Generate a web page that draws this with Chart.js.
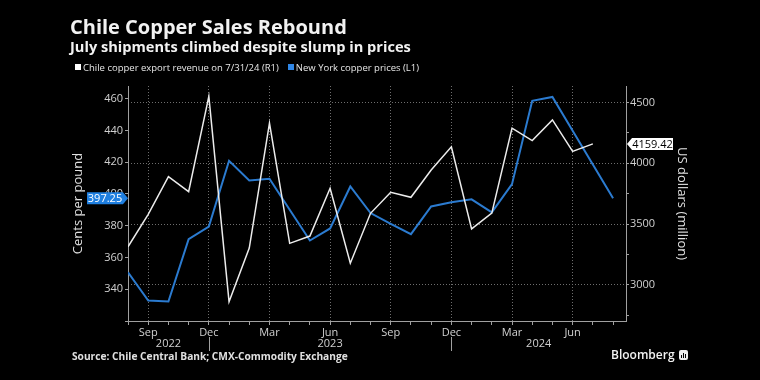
<!DOCTYPE html>
<html>
<head>
<meta charset="utf-8">
<script src="https://cdn.jsdelivr.net/npm/chart.js@4.4.1/dist/chart.umd.min.js"></script>
<style>
html,body{margin:0;padding:0;background:#000;}
#wrap{position:relative;width:760px;height:380px;overflow:hidden;background:#000;font-family:"Open Sans",sans-serif;color:#fff;}
#c{position:absolute;left:0;top:0;}
.t{position:absolute;white-space:nowrap;line-height:1;}
#title{left:70px;top:17px;font-size:20px;font-weight:700;color:#f2f2f2;}
#subtitle{left:70px;top:39px;font-size:14.6px;font-weight:700;color:#f2f2f2;}
#legend{left:75px;top:62.5px;font-size:9.5px;color:#e6e6e6;}
#legend .sw{display:inline-block;width:6px;height:6px;margin-right:2px;position:relative;top:-0.5px;}
#legend .item{margin-right:9px;}
#source{left:72px;top:351px;font-size:10.2px;font-weight:700;color:#e0e0e0;}
#bbg{left:611px;top:349px;font-size:12px;font-weight:600;color:#f2f2f2;}
#logo{position:absolute;left:679px;top:350px;width:9px;height:10px;background:#eee;border-radius:2px;}
#logo i{position:absolute;bottom:2px;width:1px;background:#000;}
</style>
</head>
<body>
<div id="wrap">
  <canvas id="c" width="760" height="380"></canvas>
  <div class="t" id="title">Chile Copper Sales Rebound</div>
  <div class="t" id="subtitle">July shipments climbed despite slump in prices</div>
  <div class="t" id="legend"></div>
  <div class="t" id="source">Source: Chile Central Bank; CMX-Commodity Exchange</div>
  <div class="t" id="bbg">Bloomberg</div>
  <div id="logo"><i style="left:2px;height:3px"></i><i style="left:4px;height:5px"></i><i style="left:6px;height:4px"></i></div>
</div>
<script>
// ---------- data ----------
const months = ['Aug 2022','Sep 2022','Oct 2022','Nov 2022','Dec 2022','Jan 2023','Feb 2023','Mar 2023','Apr 2023','May 2023','Jun 2023','Jul 2023','Aug 2023','Sep 2023','Oct 2023','Nov 2023','Dec 2023','Jan 2024','Feb 2024','Mar 2024','Apr 2024','May 2024','Jun 2024','Jul 2024','Aug 2024'];
const labeledMonths = ['Sep','Dec','Mar','Jun'];
// New York copper prices, cents per pound (left axis)
const nyCopperPrices = [350.6, 332.9, 332.3, 371.6, 379.5, 420.9, 408.5, 409.6, 390.1, 370.7, 378.3, 404.7, 388.0, 381.2, 374.7, 392.1, 394.8, 396.6, 388.4, 406.2, 458.7, 461.1, 439.8, 418.6, 397.25];
// Chile copper export revenue, US$ million (right axis)
const chileExportRevenue = [3313, 3580, 3890, 3766, 4550, 2860, 3302, 4330, 3341, 3401, 3794, 3178, 3588, 3761, 3720, 3945, 4135, 3460, 3590, 4289, 4187, 4357, 4098, 4159.42];
const leftTickLabels = [340, 360, 380, 400, 420, 440, 460];
const rightTickLabels = [3000, 3500, 4000, 4500];
const seriesNames = ['Chile copper export revenue on 7/31/24 (R1)', 'New York copper prices (L1)'];
const seriesColors = ['#ececec', '#2b7bd0'];

// ---------- legend (HTML text) ----------
const legendEl = document.getElementById('legend');
seriesNames.forEach((n, i) => {
  const s = document.createElement('span');
  s.className = 'item';
  const sw = document.createElement('span');
  sw.className = 'sw';
  sw.style.background = i === 0 ? '#ffffff' : '#2f86e6';
  s.appendChild(sw);
  s.appendChild(document.createTextNode(n));
  legendEl.appendChild(s);
});

const gridColor = '#6e6e6e';
const axisColor = '#a0a0a0';
const tickTextColor = '#d0d0d0';
const FONT = '"Open Sans", sans-serif';

function monthName(i) {
  const m = months[i];
  return m ? m.split(' ')[0] : '';
}

const overlay = {
  id: 'overlay',
  afterDraw(chart) {
    const ctx = chart.ctx;
    const xs = chart.scales.x, yl = chart.scales.y, yr = chart.scales.y1;
    const area = chart.chartArea;
    ctx.save();
    // year separators & labels
    const decIdx = [];
    months.forEach((m, i) => { if (m.startsWith('Dec')) decIdx.push(i); });
    ctx.strokeStyle = axisColor;
    ctx.lineWidth = 1;
    decIdx.forEach(i => {
      const x = Math.round(xs.getPixelForValue(i)) + 0.5;
      ctx.beginPath(); ctx.moveTo(x, 337); ctx.lineTo(x, 351); ctx.stroke();
    });
    const years = [...new Set(months.map(m => m.split(' ')[1]))];
    ctx.fillStyle = tickTextColor;
    ctx.font = '11px ' + FONT;
    ctx.textAlign = 'center';
    ctx.textBaseline = 'middle';
    years.forEach((y, k) => {
      const left = k === 0 ? area.left : xs.getPixelForValue(decIdx[k - 1]);
      const right = decIdx[k] !== undefined ? xs.getPixelForValue(decIdx[k]) : area.right;
      ctx.fillText(y, (left + right) / 2, 343.5);
    });
    // last value tag, left (blue)
    const lv = nyCopperPrices[nyCopperPrices.length - 1];
    let y = yl.getPixelForValue(lv);
    let tip = area.left;
    ctx.fillStyle = '#1f7fe0';
    ctx.beginPath();
    ctx.moveTo(tip, y); ctx.lineTo(tip - 5, y - 6); ctx.lineTo(87, y - 6);
    ctx.lineTo(87, y + 6); ctx.lineTo(tip - 5, y + 6); ctx.closePath(); ctx.fill();
    ctx.fillStyle = '#ffffff';
    ctx.font = '11px ' + FONT;
    ctx.fillText(lv.toFixed(2), (87 + tip - 5) / 2, y + 0.5);
    // last value tag, right (white)
    const rv = chileExportRevenue[chileExportRevenue.length - 1];
    y = yr.getPixelForValue(rv);
    tip = area.right + 1;
    ctx.fillStyle = '#ffffff';
    ctx.beginPath();
    ctx.moveTo(tip, y); ctx.lineTo(tip + 5, y - 6); ctx.lineTo(673, y - 6);
    ctx.lineTo(673, y + 6); ctx.lineTo(tip + 5, y + 6); ctx.closePath(); ctx.fill();
    ctx.fillStyle = '#000000';
    ctx.fillText(rv.toFixed(2), (tip + 5 + 673) / 2, y + 0.5);
    ctx.restore();
  }
};

new Chart(document.getElementById('c'), {
  type: 'line',
  data: {
    datasets: [
      {
        label: seriesNames[0],
        data: chileExportRevenue.map((v, i) => ({x: i, y: v})),
        borderColor: seriesColors[0],
        borderWidth: 1.5,
        pointRadius: 0,
        tension: 0,
        yAxisID: 'y1'
      },
      {
        label: seriesNames[1],
        data: nyCopperPrices.map((v, i) => ({x: i, y: v})),
        borderColor: seriesColors[1],
        borderWidth: 2,
        pointRadius: 0,
        tension: 0,
        yAxisID: 'y'
      }
    ]
  },
  options: {
    responsive: false,
    animation: false,
    devicePixelRatio: 1,
    layout: {padding: {top: 86, left: 0, right: 0, bottom: 0}},
    plugins: {legend: {display: false}, tooltip: {enabled: false}},
    scales: {
      x: {
        type: 'linear',
        min: 0,
        max: 24.64,
        afterFit(s) { s.height = 59; },
        border: {display: true, color: axisColor, width: 1, dash: [1, 2]},
        grid: {
          drawOnChartArea: true,
          color: c => (c.tick && labeledMonths.includes(monthName(c.tick.value))) ? gridColor : 'rgba(0,0,0,0)',
          tickColor: axisColor,
          tickLength: 4,
          lineWidth: 1
        },
        ticks: {
          stepSize: 1,
          autoSkip: false,
          includeBounds: false,
          maxRotation: 0,
          padding: 1,
          color: tickTextColor,
          font: {family: FONT, size: 11},
          callback: v => {
            const n = monthName(v);
            return labeledMonths.includes(n) ? n : '';
          }
        }
      },
      y: {
        position: 'left',
        min: 320,
        max: 468,
        afterFit(s) { s.width = 128; },
        border: {display: true, color: axisColor, width: 1},
        grid: {drawOnChartArea: false, tickColor: axisColor, tickLength: 3},
        ticks: {
          stepSize: 20,
          includeBounds: false,
          padding: 2,
          color: tickTextColor,
          font: {family: FONT, size: 11},
          callback: v => leftTickLabels.includes(v) ? String(v) : ''
        },
        title: {display: true, text: 'Cents per pound', color: '#e0e0e0', font: {family: FONT, size: 13}, padding: {top: 70, bottom: 0}}
      },
      y1: {
        position: 'right',
        min: 2702,
        max: 4636,
        afterFit(s) { s.width = 134; },
        border: {display: true, color: axisColor, width: 1, dash: [1, 2]},
        grid: {
          drawOnChartArea: true,
          color: c => (c.tick && rightTickLabels.includes(c.tick.value)) ? gridColor : 'rgba(0,0,0,0)',
          tickColor: axisColor,
          tickLength: 3
        },
        ticks: {
          stepSize: 250,
          includeBounds: false,
          padding: 1,
          color: tickTextColor,
          font: {family: FONT, size: 11},
          callback: v => rightTickLabels.includes(v) ? String(v) : ''
        },
        title: {display: true, text: 'US dollars (million)', color: '#e0e0e0', font: {family: FONT, size: 13}, padding: {top: 70.5, bottom: 0}}
      }
    }
  },
  plugins: [overlay]
});
</script>
</body>
</html>
